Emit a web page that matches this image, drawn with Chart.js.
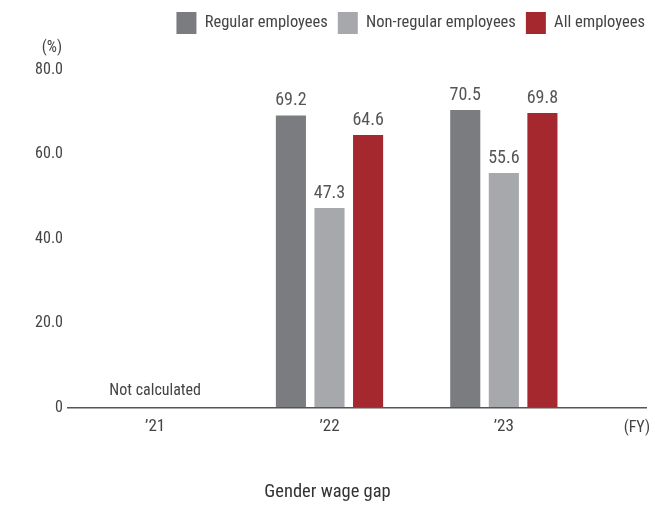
<!DOCTYPE html>
<html>
<head>
<meta charset="utf-8">
<script src="https://cdn.jsdelivr.net/npm/chart.js@4/dist/chart.umd.min.js"></script>
<style>
  html, body { margin: 0; padding: 0; background: #fff; }
  #wrap { width: 655px; height: 507px; }
</style>
</head>
<body>
<div id="wrap"><canvas id="c" width="655" height="507"></canvas></div>
<script>
const FONT = "'Roboto Condensed', 'Liberation Sans Narrow', sans-serif";

const years = ["\u201921", "\u201922", "\u201923"];
const regular = [null, 69.2, 70.5];
const nonRegular = [null, 47.3, 55.6];
const allEmployees = [null, 64.6, 69.8];
const yTicks = [0, 20, 40, 60, 80];
const seriesNames = ["Regular employees", "Non-regular employees", "All employees"];
const seriesColors = ["#7b7c80", "#a7a8ac", "#a6282f"];

// Value labels above bars, axis notes and the extended baseline
const annotations = {
  id: "annotations",
  afterDatasetsDraw(chart) {
    const ctx = chart.ctx;
    const x = chart.scales.x;
    const y = chart.scales.y;
    ctx.save();
    ctx.fillStyle = "#555";
    ctx.font = "18px " + FONT;
    ctx.textAlign = "center";
    ctx.textBaseline = "bottom";
    chart.data.datasets.forEach((ds, di) => {
      const meta = chart.getDatasetMeta(di);
      meta.data.forEach((bar, i) => {
        const v = ds.data[i];
        if (v == null) return;
        ctx.fillText(v.toFixed(1), bar.x, bar.y - 6);
      });
    });

    // baseline
    const y0 = y.getPixelForValue(0);
    ctx.strokeStyle = "#555";
    ctx.lineWidth = 1.5;
    ctx.beginPath();
    ctx.moveTo(x.left - 1, y0);
    ctx.lineTo(647, y0);
    ctx.stroke();

    ctx.fillStyle = "#444";
    ctx.font = "16px " + FONT;
    ctx.textBaseline = "bottom";
    ctx.fillText("Not calculated", x.getPixelForValue(0), y0 - 9);

    ctx.textAlign = "right";
    ctx.textBaseline = "middle";
    ctx.fillText("(%)", 62, 48);
    ctx.fillText("(FY)", 650, 428);
    ctx.restore();
  }
};

new Chart(document.getElementById("c"), {
  type: "bar",
  data: {
    labels: years,
    datasets: [
      { label: seriesNames[0], data: regular, backgroundColor: seriesColors[0] },
      { label: seriesNames[1], data: nonRegular, backgroundColor: seriesColors[1] },
      { label: seriesNames[2], data: allEmployees, backgroundColor: seriesColors[2] }
    ]
  },
  options: {
    responsive: false,
    animation: false,
    layout: { padding: { top: 2, left: 0, right: 0, bottom: 0 } },
    datasets: { bar: { categoryPercentage: 0.664, barPercentage: 0.78 } },
    plugins: {
      legend: {
        position: "top",
        align: "end",
        labels: {
          boxWidth: 20,
          boxHeight: 22,
          padding: 10,
          color: "#444",
          font: { family: FONT, size: 16.5 }
        }
      },
      title: {
        display: true,
        position: "bottom",
        text: "Gender wage gap",
        color: "#333",
        font: { family: FONT, size: 18.5, weight: "normal" },
        padding: { top: 0, bottom: 4 }
      },
      tooltip: { enabled: false }
    },
    scales: {
      x: {
        grid: { display: false, drawTicks: false },
        border: { display: false },
        ticks: { color: "#444", font: { family: FONT, size: 17 }, padding: 9 },
        afterFit: (s) => { s.height = 73; }
      },
      xTop: {
        position: "top",
        type: "linear",
        display: true,
        grid: { display: false, drawTicks: false },
        border: { display: false },
        ticks: { display: false },
        afterFit: (s) => { s.height = 26; }
      },
      y: {
        min: 0,
        max: 80,
        afterBuildTicks: (s) => { s.ticks = yTicks.map(v => ({ value: v })); },
        grid: { display: false, drawTicks: false },
        border: { display: false },
        ticks: {
          color: "#444",
          font: { family: FONT, size: 16 },
          padding: 5,
          callback: (v) => v === 0 ? "0" : v.toFixed(1)
        },
        afterFit: (s) => { s.width = 68; }
      },
      yRight: {
        position: "right",
        type: "linear",
        display: true,
        grid: { display: false, drawTicks: false },
        border: { display: false },
        ticks: { display: false },
        afterFit: (s) => { s.width = 64; }
      }
    }
  },
  plugins: [annotations]
});
</script>
</body>
</html>
